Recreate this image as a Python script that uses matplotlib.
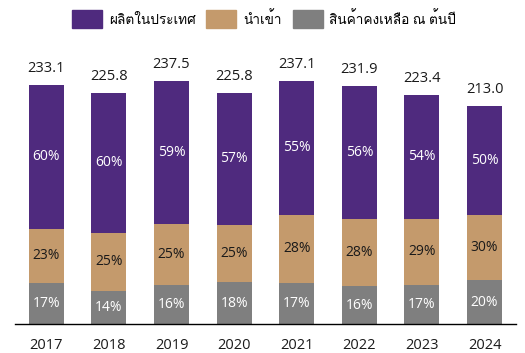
import matplotlib
matplotlib.use('Agg')
import matplotlib.pyplot as plt
from matplotlib import font_manager
from matplotlib.ft2font import FT2Font
from matplotlib.patches import Patch
import numpy as np

# --- data ---
years = ['2017', '2018', '2019', '2020', '2021', '2022', '2023', '2024']
totals = [233.1, 225.8, 237.5, 225.8, 237.1, 231.9, 223.4, 213.0]
stock = [39.6, 32.3, 38.0, 40.6, 40.3, 37.1, 38.0, 42.6]
imports = [53.6, 56.5, 59.4, 56.5, 66.4, 64.9, 64.8, 63.9]
domestic = [139.9, 137.0, 140.1, 128.7, 130.4, 129.9, 120.6, 106.5]
stock_pct = ['17%', '14%', '16%', '18%', '17%', '16%', '17%', '20%']
import_pct = ['23%', '25%', '25%', '25%', '28%', '28%', '29%', '30%']
domestic_pct = ['60%', '60%', '59%', '57%', '55%', '56%', '54%', '50%']
legend_labels = ['ผลิตในประเทศ', 'นำเข้า', 'สินค้าคงเหลือ ณ ต้นปี']

C_DOM = '#4F2A7E'
C_IMP = '#C49A6C'
C_STK = '#7F7F7F'

# find a font that has Thai glyphs
thai_font = None
for f in font_manager.fontManager.ttflist:
    try:
        if FT2Font(f.fname).get_char_index(0x0E1C):
            thai_font = f.name
            break
    except Exception:
        pass
fams = ['Open Sans']
if thai_font:
    fams.append(thai_font)
fams.append('DejaVu Sans')
plt.rcParams['font.family'] = fams

fig = plt.figure(figsize=(5.25, 3.53), dpi=100)
ax = fig.add_axes([0.0286, 0.082, 0.954, 0.755])

x = np.arange(len(years))
w = 0.56
stock = np.array(stock)
imports = np.array(imports)
domestic = np.array(domestic)
ax.bar(x, stock, w, color=C_STK)
ax.bar(x, imports, w, bottom=stock, color=C_IMP)
ax.bar(x, domestic, w, bottom=stock + imports, color=C_DOM)

for i in range(len(years)):
    ax.text(x[i], stock[i] / 2, stock_pct[i], ha='center', va='center', color='white', fontsize=10)
    ax.text(x[i], stock[i] + imports[i] / 2, import_pct[i], ha='center', va='center', color='#1a1a1a', fontsize=10)
    ax.text(x[i], stock[i] + imports[i] + domestic[i] / 2, domestic_pct[i], ha='center', va='center', color='white', fontsize=10)
    ax.annotate(f'{totals[i]:.1f}', (x[i], stock[i] + imports[i] + domestic[i]), xytext=(0, 6.5),
                textcoords='offset points', ha='center', va='bottom', fontsize=10.5, color='#1a1a1a')

ax.set_xlim(-0.5, len(years) - 0.5)
ax.set_ylim(0, 260)
ax.set_xticks(x)
ax.set_xticklabels(years, fontsize=10.5, color='#1a1a1a')
ax.tick_params(axis='x', length=0, pad=10)
ax.set_yticks([])
for s in ['top', 'right', 'left']:
    ax.spines[s].set_visible(False)
ax.spines['bottom'].set_color('black')
ax.spines['bottom'].set_linewidth(1)

handles = [Patch(color=C_DOM), Patch(color=C_IMP), Patch(color=C_STK)]
fig.legend(handles, legend_labels, loc='upper center', bbox_to_anchor=(0.503, 1.005), ncol=3,
           frameon=False, fontsize=9.8, handlelength=2.2, handleheight=1.65,
           handletextpad=0.5, columnspacing=0.8)

fig.savefig('out.png', dpi=100)
